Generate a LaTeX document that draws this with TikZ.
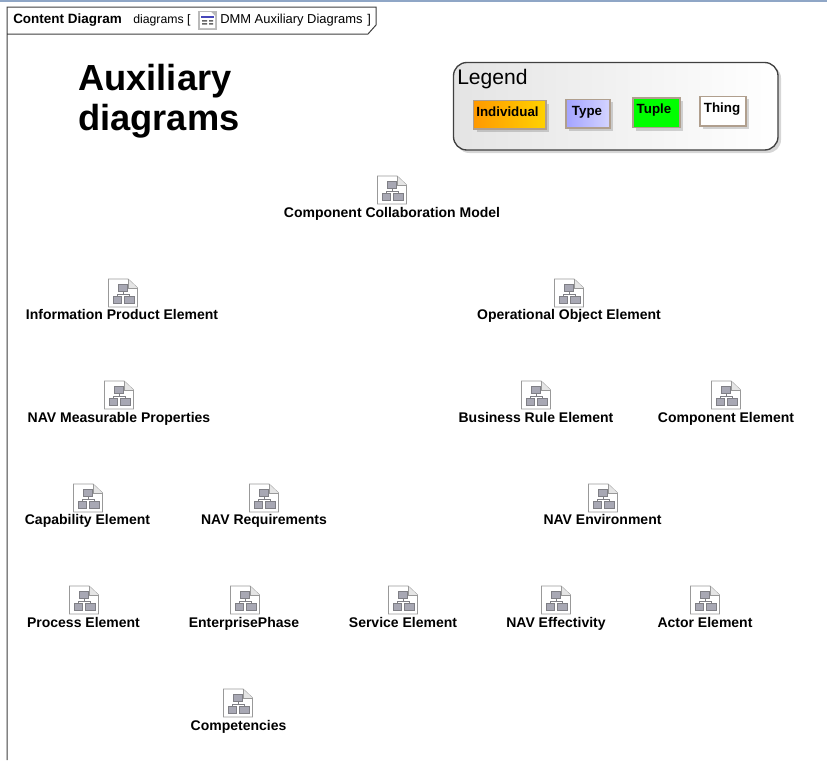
\documentclass[tikz,border=0pt]{standalone}
\usepackage{fontspec}
\setmainfont{Liberation Sans}
\definecolor{bandc}{HTML}{8FA6C6}
\definecolor{framec}{HTML}{404040}
\definecolor{tanc}{HTML}{B09F8E}
\definecolor{iconb}{HTML}{7F7F85}
\definecolor{iconf}{HTML}{A8A8B4}
\definecolor{orgl}{HTML}{FF9900}
\definecolor{orgr}{HTML}{FFD200}
\definecolor{typel}{HTML}{A4A4FF}
\definecolor{typer}{HTML}{D4D4FF}
\definecolor{legl}{HTML}{E4E4E4}
\tikzset{
  x=0.75pt,y=-0.75pt,
  framepath/.style={draw=framec,line width=0.75pt},
  lbl/.style={font=\bfseries\fontsize{10.5pt}{12pt}\selectfont,inner sep=0pt,text=black,anchor=base},
  tabtxt/.style={inner sep=0pt,anchor=base west,font=\fontsize{9.5pt}{11pt}\selectfont},
  ttl/.style={inner sep=0pt,anchor=base west,font=\bfseries\fontsize{27.2pt}{30pt}\selectfont},
  sw/.style={draw=tanc,line width=0.8pt,minimum height=0pt,inner sep=0pt},
  swtxt/.style={inner sep=0pt,font=\bfseries\fontsize{10pt}{11pt}\selectfont,anchor=base},
  shad/.style={fill=black,opacity=0.16,draw=none},
  iconpage/.style={draw=gray!80,fill=white,line width=0.7pt},
  iconbox/.style={draw=iconb,fill=iconf,line width=0.6pt},
  iconline/.style={draw=iconb,line width=0.6pt}
}
\newcommand{\diagicon}[3]{%
  \begin{scope}[shift={(#1,#2)}]
    \coordinate (#3-c) at (0,0);
    \filldraw[iconpage] (-14.5,-14) -- (5,-14) -- (14.5,-5) -- (14.5,14) -- (-14.5,14) -- cycle;
    \draw[iconpage,fill=gray!20] (5,-14) -- (5,-5) -- (14.5,-5);
    \draw[iconline] (0,-2) -- (0,1) (-6,3) -- (-6,1) -- (6,1) -- (6,3);
    \filldraw[iconbox] (-5,-9) rectangle (4,-2);
    \filldraw[iconbox] (-10,3) rectangle (-2,10);
    \filldraw[iconbox] (1,3) rectangle (11,10);
  \end{scope}}
\newcommand{\diagitem}[6]{% name, icon x, icon y, label x, label y, text
  \diagicon{#2}{#3}{#1}
  \node[lbl] (#1) at (#4,#5+5) {#6};}
\begin{document}
\begin{tikzpicture}
\useasboundingbox (0,0) rectangle (827,760);
\fill[white] (0,0) rectangle (827,760);
\fill[bandc] (0,0) rectangle (827,2);
% frame
\draw[framepath] (7,760) -- (7,7) -- (376,7) -- (376,25) -- (368,34) -- (7,34);
\node[tabtxt,font=\bfseries\fontsize{10.1pt}{11pt}\selectfont] (frametitle) at (13,23) {Content Diagram};
\node[tabtxt,font=\fontsize{9.2pt}{11pt}\selectfont] (framekind) at (133,23) {diagrams [};
\begin{scope}[shift={(198,11)}]
  \fill[gray!55] (0,0) rectangle (19,19);
  \fill[white] (2,1) -- (13,1) -- (17,5) -- (17,17) -- (2,17) -- cycle;
  \fill[blue!45!gray] (3,5) rectangle (16,7);
  \fill[gray!80!black] (4,9) rectangle (9,10.5) (11,9) rectangle (15,10.5) (4,12) rectangle (9,13.5) (11,12) rectangle (15,13.5);
\end{scope}
\node[tabtxt,font=\fontsize{9.7pt}{11pt}\selectfont] (framename) at (220,23) {DMM Auxiliary Diagrams};
\node[tabtxt] (frameend) at (367,23) {]};
% title
\node[ttl] (title1) at (78,90) {Auxiliary};
\node[ttl] (title2) at (78,130) {diagrams};
% legend
\fill[shad,rounded corners=10] (456,65) rectangle (781,153);
\shade[left color=legl,right color=white,rounded corners=10] (453.5,62.5) rectangle (778,150);
\draw[draw=black!75,line width=1pt,rounded corners=10] (453.5,62.5) rectangle (778,150);
\node[inner sep=0pt,anchor=base west,font=\fontsize{15.8pt}{17pt}\selectfont] (legend) at (457,84) {Legend};
% swatches
\fill[shad] (476.5,103.5) rectangle (549,132);
\shade[left color=orgl,right color=orgr] (473.5,100.5) rectangle (546,129);
\draw[sw] (473.5,100.5) rectangle (546,129);
\node[swtxt] (individual) at (507.5,116) {Individual};
\fill[shad] (569,102) rectangle (613,131);
\shade[left color=typel,right color=typer] (566,99.5) rectangle (610,128);
\draw[sw] (566,99.5) rectangle (610,128);
\node[swtxt] (type) at (587,115) {Type};
\fill[shad] (636,101) rectangle (683,130.5);
\fill[green] (633,98) rectangle (680,127.5);
\draw[sw] (633,98) rectangle (680,127.5);
\node[swtxt] (tuple) at (654,113) {Tuple};
\fill[shad] (703,99) rectangle (749,129);
\fill[white] (700,96.5) rectangle (746,126);
\draw[sw] (700,96.5) rectangle (746,126);
\node[swtxt] (thing) at (722,112) {Thing};
% diagrams
\diagitem{ccm}{392}{190}{392}{212}{Component Collaboration Model}
\diagitem{ipe}{123}{293}{122}{314.5}{Information Product Element}
\diagitem{ooe}{569}{293}{569}{314.5}{Operational Object Element}
\diagitem{nmp}{119}{395}{119}{417}{NAV Measurable Properties}
\diagitem{bre}{536}{395}{536}{417}{Business Rule Element}
\diagitem{coe}{726}{395}{726}{417}{Component Element}
\diagitem{cap}{88}{498}{87.5}{519.5}{Capability Element}
\diagitem{req}{264}{498}{264}{519.5}{NAV Requirements}
\diagitem{env}{603}{498}{602.5}{519.5}{NAV Environment}
\diagitem{pro}{84}{600}{83.5}{622}{Process Element}
\diagitem{ent}{245}{600}{244}{622}{EnterprisePhase}
\diagitem{ser}{403}{600}{403}{622}{Service Element}
\diagitem{eff}{556}{600}{556}{622}{NAV Effectivity}
\diagitem{act}{705}{600}{705}{622}{Actor Element}
\diagitem{cmp}{238}{703}{238.5}{725}{Competencies}
\end{tikzpicture}
\end{document}
